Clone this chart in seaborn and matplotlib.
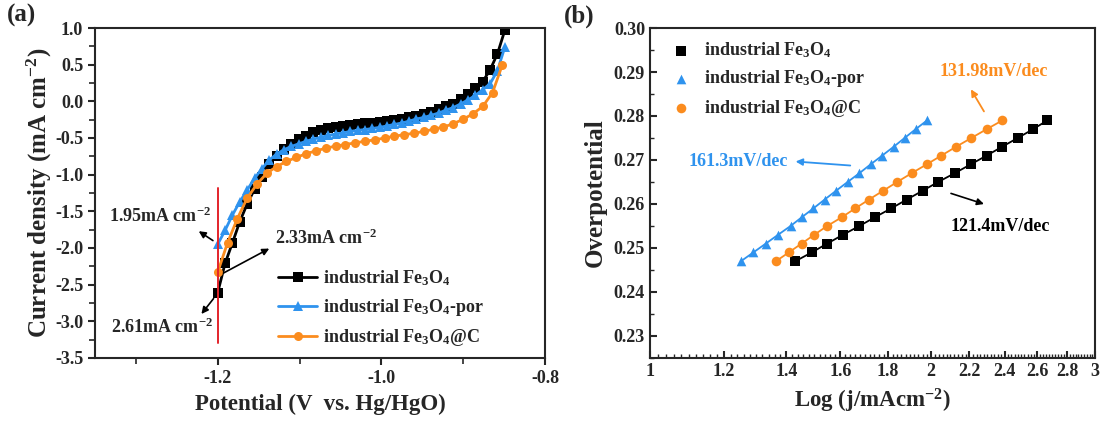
import matplotlib
matplotlib.use("Agg")
import matplotlib.pyplot as plt
import matplotlib.ticker as mticker
import pandas as pd
import seaborn as sns

# -------------------------------
# (a) LSV curves
# -------------------------------
pot_black = [-1.200, -1.191, -1.182, -1.173, -1.164, -1.155, -1.146, -1.137, -1.128, -1.119,
             -1.110, -1.101, -1.092, -1.083, -1.074, -1.065, -1.056, -1.047, -1.038, -1.029,
             -1.020, -1.011, -1.002, -0.993, -0.984, -0.975, -0.966, -0.957, -0.948, -0.939,
             -0.930, -0.921, -0.912, -0.903, -0.894, -0.885, -0.876, -0.867, -0.858, -0.849]
cur_black = [-2.61, -2.21, -1.93, -1.64, -1.40, -1.20, -1.03, -0.85, -0.74, -0.65,
             -0.58, -0.52, -0.47, -0.42, -0.39, -0.37, -0.355, -0.335, -0.32, -0.31,
             -0.30, -0.29, -0.28, -0.27, -0.26, -0.24, -0.22, -0.20, -0.175, -0.14,
             -0.11, -0.07, -0.03, 0.03, 0.10, 0.18, 0.27, 0.43, 0.65, 0.97]
pot_blue = pot_black
cur_blue = [-1.95, -1.76, -1.55, -1.37, -1.21, -1.05, -0.92, -0.80, -0.72, -0.66,
            -0.615, -0.58, -0.545, -0.515, -0.49, -0.465, -0.445, -0.43, -0.41, -0.395,
            -0.385, -0.37, -0.355, -0.335, -0.315, -0.295, -0.27, -0.24, -0.22, -0.19,
            -0.16, -0.12, -0.085, -0.035, 0.02, 0.08, 0.16, 0.24, 0.42, 0.74]
pot_orange = [-1.200, -1.188, -1.176, -1.164, -1.152, -1.140, -1.128, -1.116, -1.104, -1.092,
              -1.080, -1.068, -1.056, -1.044, -1.032, -1.020, -1.008, -0.996, -0.984, -0.972,
              -0.960, -0.948, -0.936, -0.924, -0.912, -0.900, -0.888, -0.876, -0.864, -0.852]
cur_orange = [-2.33, -1.93, -1.60, -1.32, -1.13, -0.98, -0.89, -0.82, -0.765, -0.715,
              -0.675, -0.64, -0.61, -0.59, -0.565, -0.545, -0.525, -0.50, -0.475, -0.455,
              -0.435, -0.41, -0.38, -0.35, -0.305, -0.245, -0.17, -0.07, 0.12, 0.50]

# -------------------------------
# (b) Tafel data
# -------------------------------
eta = [0.247, 0.249, 0.251, 0.253, 0.255, 0.257, 0.259, 0.261, 0.263,
       0.265, 0.267, 0.269, 0.271, 0.273, 0.275, 0.277, 0.279]
j_black = [1.432, 1.491, 1.549, 1.610, 1.677, 1.743, 1.814, 1.885, 1.960,
           2.037, 2.122, 2.207, 2.296, 2.385, 2.479, 2.575, 2.667]
j_blue = [1.252, 1.291, 1.331, 1.372, 1.415, 1.455, 1.497, 1.539, 1.583,
          1.629, 1.677, 1.724, 1.774, 1.825, 1.875, 1.927, 1.982]
j_orange = [1.365, 1.409, 1.454, 1.500, 1.549, 1.606, 1.660, 1.717, 1.778,
            1.841, 1.908, 1.980, 2.053, 2.129, 2.211, 2.296, 2.387]

labels = ['industrial Fe$_3$O$_4$', 'industrial Fe$_3$O$_4$-por', 'industrial Fe$_3$O$_4$@C']
colors = ['#000000', '#2f93ee', '#fb8c1e']
markers = ['s', '^', 'o']
x_ticks_b = [1, 1.2, 1.4, 1.6, 1.8, 2, 2.2, 2.4, 2.6, 2.8, 3]

sns.set_theme(style="ticks")
plt.rcParams['font.family'] = ['Liberation Serif', 'DejaVu Serif']
plt.rcParams['font.weight'] = 'bold'
plt.rcParams['mathtext.default'] = 'regular'
plt.rcParams['axes.unicode_minus'] = False
plt.rcParams['axes.linewidth'] = 1.5

fig = plt.figure(figsize=(11.02, 4.23), dpi=100)
ax1 = fig.add_axes([0.0862, 0.1537, 0.4083, 0.7801])
ax2 = fig.add_axes([0.5898, 0.1537, 0.4038, 0.7801])

# ---- panel (a)
curves = [(pot_black, cur_black), (pot_blue, cur_blue), (pot_orange, cur_orange)]
for (px, cy), lab, c, m in zip(curves, labels, colors, markers):
    df = pd.DataFrame({'x': px, 'y': cy})
    sns.lineplot(data=df, x='x', y='y', ax=ax1, color=c, marker=m, markersize=6.5,
                 markeredgewidth=0, linewidth=2.0, sort=False, label=lab)

ax1.plot([-1.2, -1.2], [-3.3, -1.18], color='#e3242b', linewidth=1.4)

arrow = dict(arrowstyle='-|>', color='black', lw=1.2, mutation_scale=10)
ax1.annotate('', xy=(-1.226, -1.75), xytext=(-1.203, -1.92), arrowprops=arrow)
ax1.annotate('', xy=(-1.134, -1.99), xytext=(-1.196, -2.36), arrowprops=arrow)
ax1.annotate('', xy=(-1.222, -2.93), xytext=(-1.203, -2.66), arrowprops=arrow)
ax1.text(-1.333, -1.57, '1.95mA cm$^{-2}$', fontsize=13, va='center', ha='left')
ax1.text(-1.130, -1.87, '2.33mA cm$^{-2}$', fontsize=13, va='center', ha='left')
ax1.text(-1.331, -3.08, '2.61mA cm$^{-2}$', fontsize=13, va='center', ha='left')

ax1.set_xlim(-1.35, -0.8)
ax1.set_ylim(-3.5, 1.0)
ax1.xaxis.set_major_locator(mticker.FixedLocator([-1.2, -1.0, -0.8]))
ax1.xaxis.set_minor_locator(mticker.FixedLocator([-1.3, -1.1, -0.9]))
ax1.xaxis.set_major_formatter(mticker.FormatStrFormatter('%.1f'))
ax1.yaxis.set_major_locator(mticker.MultipleLocator(0.5))
ax1.yaxis.set_minor_locator(mticker.MultipleLocator(0.25))
ax1.yaxis.set_major_formatter(mticker.FormatStrFormatter('%.1f'))
ax1.tick_params(axis='both', which='major', direction='out', length=5, width=1.5, labelsize=13)
ax1.tick_params(axis='both', which='minor', direction='out', length=4, width=1.2)
ax1.set_xlabel('Potential (V  vs. Hg/HgO)', fontsize=16.5, fontweight='bold', labelpad=5)
ax1.set_ylabel('Current density (mA cm$^{-2}$)', fontsize=18, fontweight='bold', labelpad=1)
ax1.legend(loc='lower right', frameon=False, fontsize=13, handlelength=2.2,
           handletextpad=0.3, labelspacing=0.5, bbox_to_anchor=(0.90, -0.02))
for sp in ax1.spines.values():
    sp.set_visible(True)

# ---- panel (b)
tafel = [j_black, j_blue, j_orange]
for jx, lab, c, m in zip(tafel, labels, colors, markers):
    df = pd.DataFrame({'j': jx, 'eta': eta})
    sns.lineplot(data=df, x='j', y='eta', ax=ax2, color=c, linewidth=1.3, sort=False)
    sns.scatterplot(data=df, x='j', y='eta', ax=ax2, color=c, marker=m, s=48,
                    linewidth=0, label=lab, zorder=3)

arrow_blue = dict(arrowstyle='-|>', color=colors[1], lw=1.3, mutation_scale=10)
arrow_orange = dict(arrowstyle='-|>', color=colors[2], lw=1.3, mutation_scale=10)
ax2.annotate('', xy=(1.423, 0.2697), xytext=(1.651, 0.2687), arrowprops=arrow_blue)
ax2.annotate('', xy=(2.201, 0.2866), xytext=(2.289, 0.2805), arrowprops=arrow_orange)
ax2.annotate('', xy=(2.296, 0.2598), xytext=(2.089, 0.2626), arrowprops=arrow)
ax2.text(1.405, 0.2697, '161.3mV/dec', color=colors[1], fontsize=13, va='center', ha='right')
ax2.text(2.044, 0.2901, '131.98mV/dec', color=colors[2], fontsize=13, va='center', ha='left')
ax2.text(2.098, 0.2548, '121.4mV/dec', color='black', fontsize=13, va='center', ha='left')

ax2.set_xscale('log')
ax2.set_xlim(1, 3)
ax2.set_ylim(0.225, 0.30)
ax2.xaxis.set_major_locator(mticker.FixedLocator(x_ticks_b))
ax2.xaxis.set_major_formatter(mticker.FixedFormatter([f'{v:g}' for v in x_ticks_b]))
minor_b = [round(1 + 0.02 * k, 2) for k in range(101)]
ax2.xaxis.set_minor_locator(mticker.FixedLocator(minor_b))
ax2.xaxis.set_minor_formatter(mticker.NullFormatter())
ax2.yaxis.set_major_locator(mticker.MultipleLocator(0.01))
ax2.yaxis.set_minor_locator(mticker.MultipleLocator(0.005))
ax2.yaxis.set_major_formatter(mticker.FormatStrFormatter('%.2f'))
ax2.tick_params(axis='both', which='major', direction='in', length=5, width=1.5, labelsize=13)
ax2.tick_params(axis='both', which='minor', direction='in', length=3, width=1.0)
ax2.set_xlabel('Log (j/mAcm$^{-2}$)', fontsize=16.5, fontweight='bold', labelpad=5)
ax2.set_ylabel('Overpotential', fontsize=18, fontweight='bold', labelpad=5)
ax2.legend(loc='upper left', frameon=False, fontsize=13, handletextpad=0.3,
           labelspacing=0.45, borderaxespad=0.3)

fig.text(0.006, 0.99, '(a)', fontsize=18, fontweight='bold', va='top', ha='left')
fig.text(0.512, 0.99, '(b)', fontsize=18, fontweight='bold', va='top', ha='left')

fig.savefig('out.png', dpi=100)
